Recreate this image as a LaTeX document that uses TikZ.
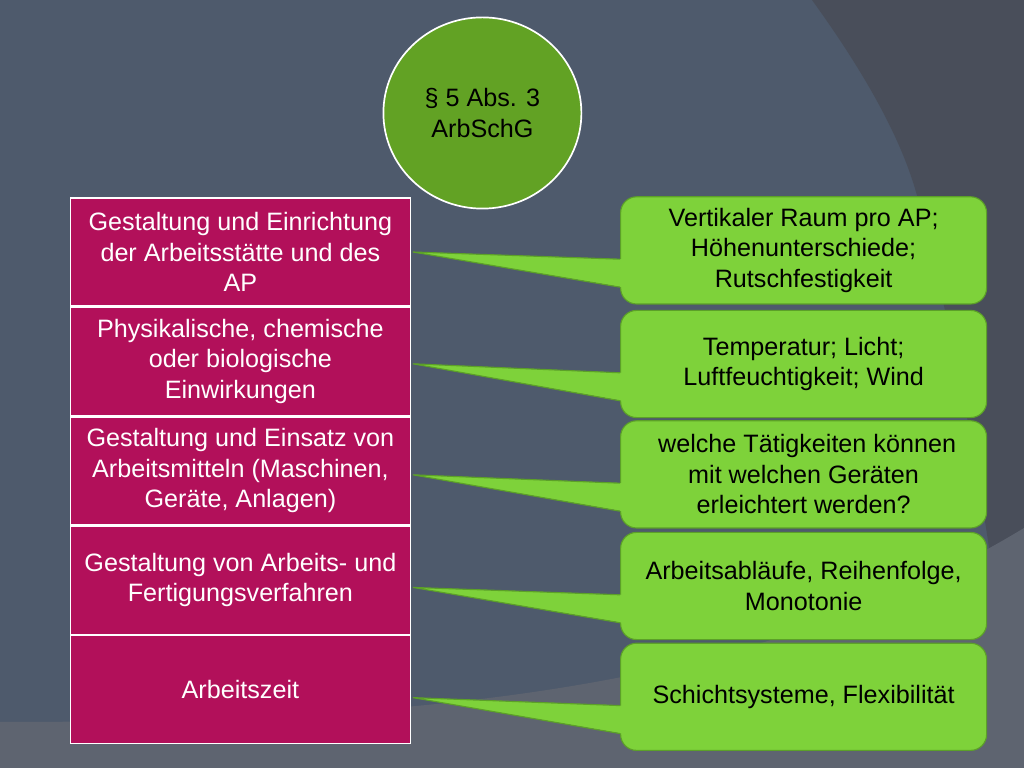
\documentclass[tikz,border=0pt]{standalone}
\usepackage{fontspec}
\setmainfont{Liberation Sans}
\usepackage{xcolor}
\usepackage{tikz}
\usetikzlibrary{calc,positioning,shapes.geometric}

\definecolor{slate}{RGB}{78,90,108}
\definecolor{slatedark}{RGB}{73,78,90}
\definecolor{slatelight}{RGB}{94,100,112}
\definecolor{berry}{RGB}{178,16,90}
\definecolor{lawgreen}{RGB}{98,162,36}
\definecolor{leaf}{RGB}{126,210,58}
\definecolor{leafedge}{RGB}{92,160,40}

\begin{document}
\begin{tikzpicture}[
  every node/.style={font=\fontsize{17.9}{21.7}\selectfont},
  topic/.style={draw=white,line width=1pt,fill=berry,text=white,align=center,
    minimum width=8.49cm,minimum height=2.70cm,inner sep=0pt},
  hint/.style={draw=leafedge,line width=0.8pt,fill=leaf,rounded corners=0.4cm,
    align=center,minimum width=9.15cm,minimum height=2.68cm,inner sep=0pt},
  law/.style={ellipse,draw=white,line width=1.2pt,fill=lawgreen,align=center,
    minimum width=4.95cm,minimum height=4.78cm,inner sep=0pt},
  tipfill/.style={fill=leaf},
  tipedge/.style={draw=leafedge,line width=0.8pt,line join=miter}]
  % background
  \useasboundingbox (0,0) rectangle (25.6,19.2);
  \fill[slate] (0,0) rectangle (25.6,19.2);
  \fill[slatedark] (20.3,19.2) .. controls (21.6,17.4) and (22.5,15.8) .. (22.9,14.4)
    .. controls (23.6,11.8) and (24.3,8.5) .. (24.8,5.0) -- (25.6,5.0) -- (25.6,19.2) -- cycle;
  \fill[slatelight] (0,0) -- (0,1.15) .. controls (11,1.15) and (19,2.0) .. (25.6,6.0)
    -- (25.6,0) -- cycle;

  % paragraph
  \node[law] (arbschg) at (12.06,16.375) {§ 5 Abs. 3\\ArbSchG};

  % left column
  \node[topic] (gest) at (6.01,12.9) {Gestaltung und Einrichtung\\der Arbeitsstätte und des\\AP};
  \node[topic,below=0pt of gest] (einw) {Physikalische, chemische\\oder biologische\\Einwirkungen};
  \node[topic,below=0pt of einw] (mittel) {Gestaltung und Einsatz von\\Arbeitsmitteln (Maschinen,\\Geräte, Anlagen)};
  \node[topic,below=0pt of mittel] (verf) {Gestaltung von Arbeits- und\\Fertigungsverfahren};
  \node[topic,below=0pt of verf] (zeit) {Arbeitszeit};

  % callouts
  \node[hint] (raum) at (20.09,12.94) {Vertikaler Raum pro AP;\\Höhenunterschiede;\\Rutschfestigkeit};
  \node[hint] (klima) at (20.09,10.1) {Temperatur; Licht;\\Luftfeuchtigkeit; Wind};
  \node[hint] (geraet) at (20.09,7.34) {\mbox{}\ welche Tätigkeiten können\\mit welchen Geräten\\erleichtert werden?};
  \node[hint] (ablauf) at (20.09,4.55) {Arbeitsabläufe, Reihenfolge,\\Monotonie};
  \node[hint] (schicht) at (20.09,1.78) {Schichtsysteme, Flexibilität};

  % pointers
  \fill[tipfill] ($(gest.east)+(0.05,0)$) -- ($(raum.west)+(0.06,-0.22)$) -- ($(raum.west)+(0.06,-0.92)$) -- cycle;
  \draw[tipedge] ($(raum.west)+(0,-0.22)$) -- ($(gest.east)+(0.05,0)$) -- ($(raum.west)+(0,-0.92)$);
  \fill[tipfill] ($(einw.east)+(0.05,-0.06)$) -- ($(klima.west)+(0.06,-0.22)$) -- ($(klima.west)+(0.06,-0.92)$) -- cycle;
  \draw[tipedge] ($(klima.west)+(0,-0.22)$) -- ($(einw.east)+(0.05,-0.06)$) -- ($(klima.west)+(0,-0.92)$);
  \fill[tipfill] ($(mittel.east)+(0.05,-0.1)$) -- ($(geraet.west)+(0.06,-0.22)$) -- ($(geraet.west)+(0.06,-0.92)$) -- cycle;
  \draw[tipedge] ($(geraet.west)+(0,-0.22)$) -- ($(mittel.east)+(0.05,-0.1)$) -- ($(geraet.west)+(0,-0.92)$);
  \fill[tipfill] ($(verf.east)+(0.05,-0.18)$) -- ($(ablauf.west)+(0.06,-0.22)$) -- ($(ablauf.west)+(0.06,-0.92)$) -- cycle;
  \draw[tipedge] ($(ablauf.west)+(0,-0.22)$) -- ($(verf.east)+(0.05,-0.18)$) -- ($(ablauf.west)+(0,-0.92)$);
  \fill[tipfill] ($(zeit.east)+(0.05,-0.2)$) -- ($(schicht.west)+(0.06,-0.22)$) -- ($(schicht.west)+(0.06,-0.92)$) -- cycle;
  \draw[tipedge] ($(schicht.west)+(0,-0.22)$) -- ($(zeit.east)+(0.05,-0.2)$) -- ($(schicht.west)+(0,-0.92)$);
\end{tikzpicture}
\end{document}
